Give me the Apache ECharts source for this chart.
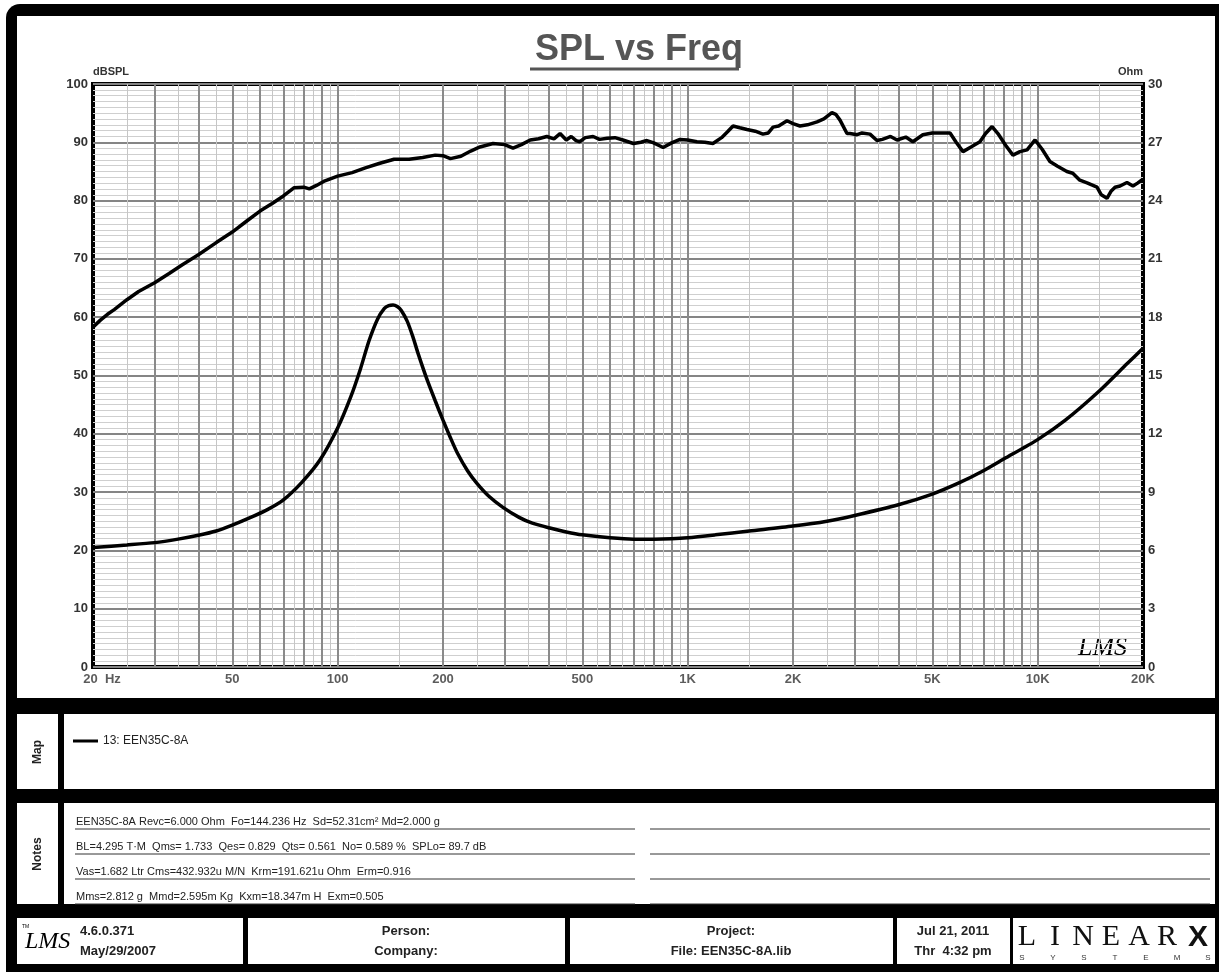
<!DOCTYPE html>
<html>
<head>
<meta charset="utf-8">
<title>SPL vs Freq</title>
<script src="https://cdn.jsdelivr.net/npm/echarts@6/dist/echarts.min.js"></script>
<style>
html,body{margin:0;padding:0;background:#fff}
#chart{width:1219px;height:976px}
</style>
</head>
<body>
<div id="chart"></div>
<script>
// SPL curve, left axis (dBSPL)
var splFreq = [20,21,22,23,25,27,30,33,36,40,45,50,55,60,65,70,75,80,83,87,92,100,110,120,132,145,160,175,190,200,210,225,240,255,278,300,317,335,355,375,396,415,432,450,465,480,492,510,537,560,589,620,653,700,735,765,800,851,900,951,1000,1063,1120,1181,1250,1300,1348,1410,1478,1560,1641,1700,1754,1820,1923,2000,2094,2200,2343,2450,2584,2650,2725,2853,2910,3050,3150,3319,3475,3600,3800,3965,4200,4400,4700,5000,5300,5620,5850,6120,6450,6840,7100,7410,7700,8100,8500,8900,9330,9830,10300,10840,11400,12120,12600,13200,13900,14780,15200,15780,16200,16640,17200,18000,18720,19300,20000]
var splDb = [58.3,59.5,60.5,61.3,63.0,64.4,65.9,67.5,69.0,70.7,72.8,74.6,76.5,78.2,79.5,80.8,82.2,82.3,82.0,82.6,83.4,84.2,84.8,85.6,86.4,87.1,87.1,87.4,87.8,87.7,87.2,87.6,88.5,89.2,89.8,89.6,89.0,89.6,90.4,90.6,91.0,90.6,91.5,90.4,91.0,90.3,90.1,90.8,91.0,90.5,90.7,90.8,90.4,89.8,90.0,90.3,89.9,89.1,89.9,90.5,90.4,90.1,90.0,89.8,90.8,91.8,92.8,92.5,92.2,91.9,91.4,91.6,92.6,92.8,93.7,93.2,92.8,93.0,93.5,94.0,95.1,94.8,93.8,91.5,91.5,91.3,91.6,91.4,90.3,90.5,91.0,90.4,90.9,90.1,91.3,91.6,91.6,91.6,90.0,88.4,89.2,90.1,91.5,92.7,91.5,89.5,87.8,88.4,88.7,90.4,88.8,86.7,85.9,85.0,84.7,83.5,83.0,82.3,81.0,80.4,81.6,82.3,82.5,83.1,82.5,83.0,83.7]

// impedance curve, right axis (Ohm)
var zFreq = [20,25,30,35,40,45,50,56,63,70,79,89,100,109,116,123,130,136,140,144,148,152,158,164,170,180,190,200,210,220,235,250,270,296,330,360,404,450,500,600,700,800,900,1000,1200,1500,2000,2500,3000,4000,5000,6000,7000,8000,10000,12000,15000,18000,20000]
var zOhm = [6.15,6.28,6.4,6.58,6.78,7.0,7.3,7.67,8.1,8.6,9.5,10.65,12.3,13.9,15.3,16.8,17.9,18.45,18.6,18.63,18.55,18.35,17.8,17.0,16.1,14.8,13.7,12.7,11.8,11.0,10.1,9.45,8.8,8.23,7.7,7.4,7.15,6.95,6.8,6.65,6.58,6.58,6.6,6.65,6.8,7.0,7.25,7.5,7.8,8.35,8.9,9.5,10.1,10.7,11.7,12.7,14.2,15.6,16.4]

var freqTicks = [20,50,100,200,500,1000,2000,5000,10000,20000]
var freqTickText = ['20  Hz','50','100','200','500','1K','2K','5K','10K','20K']
var gridDark = [30,40,50,60,70,80,90,100,200,300,400,500,600,700,800,900,1000,2000,3000,4000,5000,6000,7000,8000,9000,10000]
var gridLight = [25,35,45,55,65,75,85,95,150,250,350,450,550,650,750,850,950,1500,2500,3500,4500,5500,6500,7500,8500,9500,15000]

var legendName = '13: EEN35C-8A'
var notesText = [
    'EEN35C-8A Revc=6.000 Ohm  Fo=144.236 Hz  Sd=52.31cm\u00b2 Md=2.000 g',
    'BL=4.295 T\u00b7M  Qms= 1.733  Qes= 0.829  Qts= 0.561  No= 0.589 %  SPLo= 89.7 dB',
    'Vas=1.682 Ltr Cms=432.932u M/N  Krm=191.621u Ohm  Erm=0.916',
    'Mms=2.812 g  Mmd=2.595m Kg  Kxm=18.347m H  Exm=0.505'
]
var footerText = [
    ['4.6.0.371','May/29/2007'],
    ['Person:','Company:'],
    ['Project:','File: EEN35C-8A.lib'],
    ['Jul 21, 2011','Thr  4:32 pm']
]

var zip = function(xs, ys){
    var out = []
    for (var i = 0; i < xs.length; i++) out.push([xs[i], ys[i]])
    return out
}

var narrow = "'Liberation Sans Narrow','Liberation Sans',Arial,sans-serif"
var sans = "'Liberation Sans',Arial,sans-serif"

var txt = function(s, x, y, font, fill, align){
    return {type:'text', style:{text:s, x:x, y:y, font:font, fill:fill || '#222',
        align:align || 'left', textAlign:align || 'left', verticalAlign:'middle', textVerticalAlign:'middle'}}
}

var gfx = []
// outer black frame
gfx.push({type:'rect', z:-20, shape:{x:6,y:4,width:1213,height:968,r:[14,0,0,0]}, style:{fill:'#000'}})
// white panels
var panels = [
    [17,16,1198,682],
    [17,714,41,75],[64,714,1151,75],
    [17,803,41,101],[64,803,1151,101],
    [17,918,226,46],[248,918,317,46],[570,918,323,46],[897,918,113,46],[1013,918,202,46]
]
panels.forEach(function(p){
    gfx.push({type:'rect', z:-10, shape:{x:p[0],y:p[1],width:p[2],height:p[3]}, style:{fill:'#fff'}})
})
// title underline
gfx.push({type:'line', shape:{x1:530,y1:69,x2:739,y2:69}, style:{stroke:'#555',lineWidth:3}})
// LMS mark inside plot
gfx.push(txt('LMS', 1078, 648, "italic 26px 'Liberation Serif',serif", '#000'))
// side labels
var side = function(s, y){
    return {type:'text', x:38, y:y, rotation:Math.PI/2, style:{text:s, x:0, y:0, font:"bold 12px "+sans, fill:'#222',
        align:'center', textAlign:'center', verticalAlign:'middle', textVerticalAlign:'middle'}}
}
gfx.push(side('Map', 752))
gfx.push(side('Notes', 854))
// map legend
gfx.push({type:'line', shape:{x1:73,y1:741,x2:98,y2:741}, style:{stroke:'#000',lineWidth:3}})
gfx.push(txt(legendName, 103, 741, "12px "+sans))
// notes rows
for (var i = 0; i < 4; i++) {
    var ny = 822 + i*25
    gfx.push(txt(notesText[i], 76, ny, "11px "+sans))
    gfx.push({type:'line', shape:{x1:75,y1:ny+7,x2:635,y2:ny+7}, style:{stroke:'#333',lineWidth:1}})
    gfx.push({type:'line', shape:{x1:650,y1:ny+7,x2:1210,y2:ny+7}, style:{stroke:'#333',lineWidth:1}})
}
// footer
gfx.push(txt('LMS', 25, 942, "italic 24px 'Liberation Serif',serif", '#000'))
gfx.push({type:'text', style:{text:'TM', x:22, y:924, font:"5px sans-serif", fill:'#000'}})
gfx.push(txt(footerText[0][0], 80, 931, "bold 13px "+narrow))
gfx.push(txt(footerText[0][1], 80, 951, "bold 13px "+narrow))
var centers = [0, 406, 731, 953]
for (var j = 1; j < 4; j++) {
    gfx.push(txt(footerText[j][0], centers[j], 931, "bold 13px "+narrow, '#222', 'center'))
    gfx.push(txt(footerText[j][1], centers[j], 951, "bold 13px "+narrow, '#222', 'center'))
}
// LINEARX logo
var logo = ['L','I','N','E','A','R']
logo.forEach(function(ch, k){
    gfx.push(txt(ch, 1027 + k*28, 937, "30px 'Liberation Serif',serif", '#111', 'center'))
})
gfx.push(txt('X', 1198, 938, "900 30px "+sans, '#111', 'center'))
'SYSTEMS'.split('').forEach(function(ch, k){
    gfx.push(txt(ch, 1022 + k*31, 958, "8px "+sans, '#333', 'center'))
})

var vLines = []
gridLight.forEach(function(f){ vLines.push({xAxis:f, lineStyle:{color:'#c6c6c6', width:1, type:'solid'}}) })
gridDark.forEach(function(f){ vLines.push({xAxis:f, lineStyle:{color:'#8a8a8a', width:2, type:'solid'}}) })

var tickData = freqTicks.map(function(f, k){
    var item = {value:[f, 0]}
    if (k == 0) item.label = {offset:[9, 0]}
    return item
})

var myChart = echarts.init(document.getElementById('chart'))
var option = {
    backgroundColor: '#fff',
    animation: false,
    title: {
        text: 'SPL vs Freq',
        left: 530,
        top: 27,
        textStyle: {fontSize: 36, fontWeight: 'bold', color: '#555', fontFamily: sans}
    },
    graphic: gfx,
    grid: {left: 93, right: 76, top: 84, bottom: 309, show: true, borderColor: '#000', borderWidth: 4, backgroundColor: '#fff', containLabel: false},
    xAxis: {
        type: 'log', logBase: 10, min: 20, max: 20000,
        axisLine: {show: false}, axisTick: {show: false}, axisLabel: {show: false}, splitLine: {show: false}
    },
    yAxis: [
        {
            type: 'value', min: 0, max: 100, interval: 10,
            name: 'dBSPL', nameLocation: 'end', nameGap: 7,
            nameTextStyle: {align: 'left', fontSize: 11, fontWeight: 'bold', color: '#333', fontFamily: sans},
            axisLine: {show: false}, axisTick: {show: false},
            axisLabel: {margin: 5, fontSize: 13, fontWeight: 'bold', color: '#333', fontFamily: narrow},
            splitLine: {show: true, lineStyle: {color: '#858585', width: 2}},
            minorTick: {show: false, splitNumber: 10},
            minorSplitLine: {show: true, lineStyle: {color: '#cfcfcf', width: 1}}
        },
        {
            type: 'value', min: 0, max: 30, interval: 3, position: 'right',
            name: 'Ohm', nameLocation: 'end', nameGap: 7,
            nameTextStyle: {align: 'right', fontSize: 11, fontWeight: 'bold', color: '#333', fontFamily: sans},
            axisLine: {show: false}, axisTick: {show: false},
            axisLabel: {margin: 5, fontSize: 13, fontWeight: 'bold', color: '#333', fontFamily: narrow},
            splitLine: {show: false}
        }
    ],
    series: [
        {
            name: 'grid', type: 'line', data: [], z: 1, silent: true,
            markLine: {silent: true, symbol: ['none', 'none'], label: {show: false}, animation: false, data: vLines}
        },
        {
            name: 'ticks', type: 'scatter', data: tickData, symbolSize: 0, silent: true, clip: false, z: 6,
            label: {
                show: true, position: 'bottom', distance: 6,
                fontSize: 13, fontWeight: 'bold', color: '#333', fontFamily: narrow,
                formatter: function(p){ return freqTickText[p.dataIndex] }
            }
        },
        {
            name: 'SPL', type: 'line', data: zip(splFreq, splDb), yAxisIndex: 0, z: 5,
            showSymbol: false, lineStyle: {color: '#000', width: 3.5}, itemStyle: {color: '#000'}
        },
        {
            name: legendName, type: 'line', data: zip(zFreq, zOhm), yAxisIndex: 1, z: 5,
            showSymbol: false, smooth: 0.25, lineStyle: {color: '#000', width: 3.5}, itemStyle: {color: '#000'}
        }
    ]
}
option && myChart.setOption(option)
</script>
</body>
</html>
